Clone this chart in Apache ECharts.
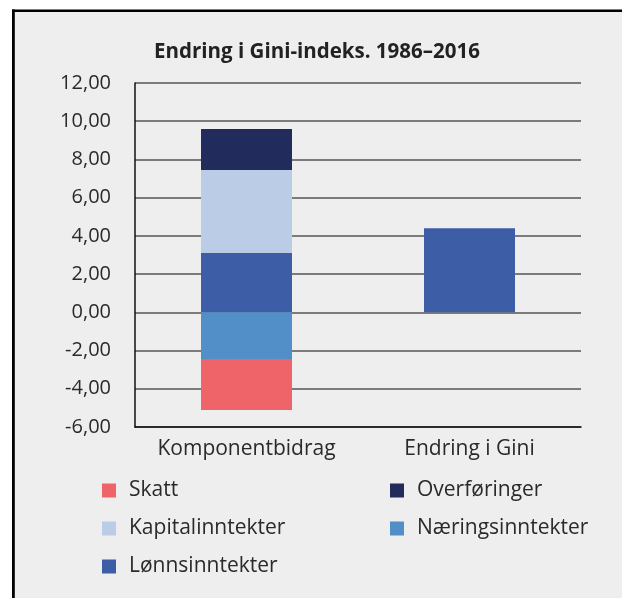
<!DOCTYPE html>
<html>
<head>
<meta charset="utf-8">
<script src="https://cdn.jsdelivr.net/npm/echarts@6/dist/echarts.min.js"></script>
<style>
  html, body { margin: 0; padding: 0; background: #fff; }
  #chart { width: 622px; height: 598px; }
</style>
</head>
<body>
<div id="chart"></div>
<script>
// kategorier og verdier lest av figuren
const categories = ['Komponentbidrag', 'Endring i Gini']
const yTicks = [-6, -4, -2, 0, 2, 4, 6, 8, 10, 12]

const lonn = [3.12, '-']
const kapital = [4.33, '-']
const overforinger = [2.14, '-']
const naering = [-2.44, '-']
const skatt = [-2.67, '-']
const giniEndring = ['-', 4.40]

const colors = {
  skatt: '#ef6469',
  kapital: '#bbcde6',
  lonn: '#3d5da7',
  overf: '#212b5c',
  naering: '#528ec8'
}

const font = '"Open Sans", "Noto Sans", sans-serif'

const chart = echarts.init(document.getElementById('chart'), null, { renderer: 'canvas' })

function bar(name, data, color){
  return {
    name: name,
    type: 'bar',
    stack: 'sum',
    data: data,
    barWidth: 91,
    itemStyle: { color: color },
    emphasis: { disabled: true }
  }
}

const legendText = { fontFamily: font, fontSize: 21, color: '#2a2a2a', padding: [0, 0, 0, 8] }

function legend(names, left){
  return {
    data: names,
    orient: 'vertical',
    left: left,
    top: 480,
    padding: 0,
    itemWidth: 14,
    itemHeight: 14,
    itemGap: 17,
    icon: 'rect',
    textStyle: legendText,
    selectedMode: false
  }
}

chart.setOption({
  backgroundColor: '#eeeeee',
  animation: false,
  title: {
    text: 'Endring i Gini-indeks. 1986–2016',
    left: 317,
    textAlign: 'center',
    top: 42,
    padding: 0,
    textStyle: { fontFamily: font, fontSize: 20.5, fontWeight: 'bold', color: '#222' }
  },
  legend: [
    legend(['Skatt', 'Kapitalinntekter', 'Lønnsinntekter'], 102),
    legend(['Overføringer', 'Næringsinntekter'], 390)
  ],
  grid: { left: 135, right: 41, top: 83, bottom: 171 },
  xAxis: {
    type: 'category',
    data: categories,
    axisLine: { onZero: false, lineStyle: { color: '#111', width: 1.5 } },
    axisTick: { show: false },
    axisLabel: { interval: 0, hideOverlap: false, fontFamily: font, fontSize: 21, color: '#2a2a2a', margin: 12 }
  },
  yAxis: {
    type: 'value',
    min: yTicks[0],
    max: yTicks[yTicks.length - 1],
    interval: 2,
    axisLine: { show: true, lineStyle: { color: '#111', width: 1.5 } },
    axisTick: { show: false },
    splitLine: { lineStyle: { color: '#555', width: 1.5 } },
    axisLabel: {
      fontFamily: font, fontSize: 20, color: '#2a2a2a', margin: 24,
      formatter: v => v.toFixed(2).replace('.', ',')
    }
  },
  series: [
    bar('Lønnsinntekter', lonn, colors.lonn),
    bar('Kapitalinntekter', kapital, colors.kapital),
    bar('Overføringer', overforinger, colors.overf),
    bar('Næringsinntekter', naering, colors.naering),
    bar('Skatt', skatt, colors.skatt),
    bar('Endring i Gini', giniEndring, colors.lonn)
  ],
  graphic: [
    // hvit marg og svart ramme
    { type: 'rect', shape: { x: 0, y: 0, width: 622, height: 9.5 }, style: { fill: '#fff' }, silent: true },
    { type: 'rect', shape: { x: 0, y: 0, width: 12, height: 598 }, style: { fill: '#fff' }, silent: true },
    { type: 'rect', shape: { x: 12, y: 9.5, width: 2.8, height: 589 }, style: { fill: '#000' }, silent: true },
    { type: 'rect', shape: { x: 12, y: 9.5, width: 610, height: 2.5 }, style: { fill: '#000' }, silent: true }
  ]
})
</script>
</body>
</html>
